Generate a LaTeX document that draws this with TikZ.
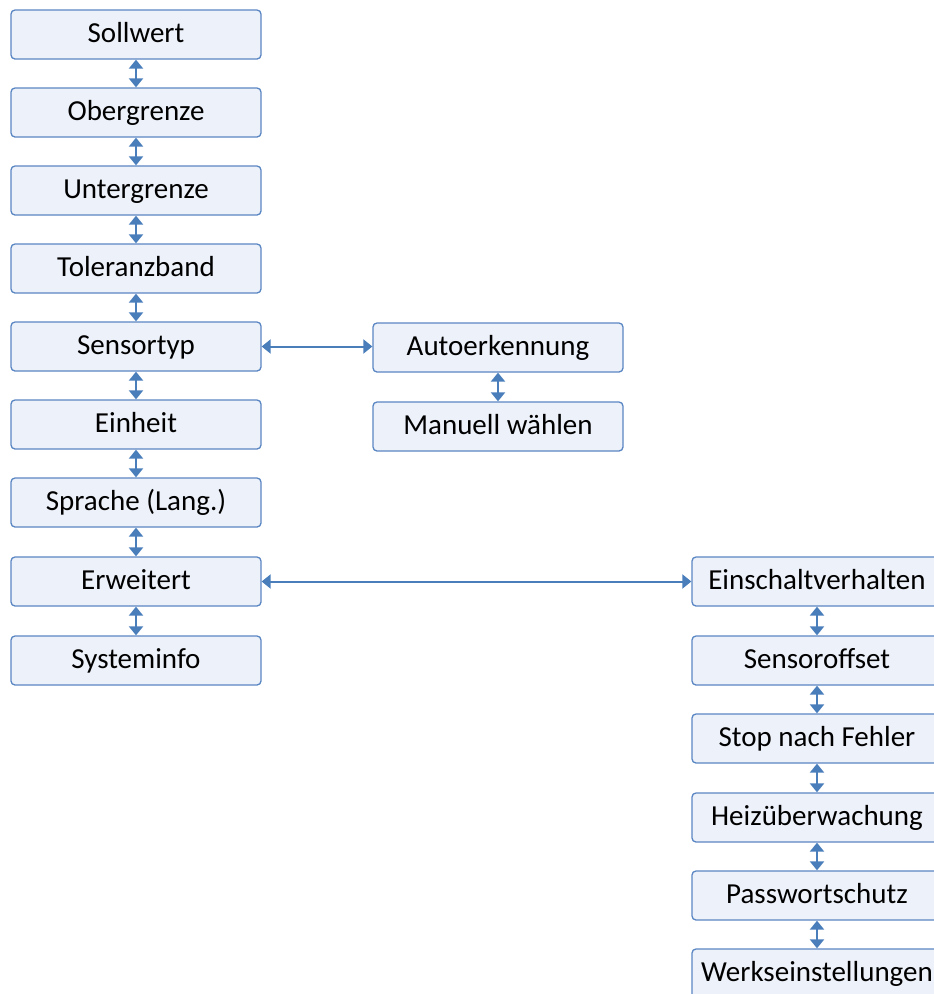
\documentclass[tikz,border=0pt]{standalone}
\usepackage{fontspec}
\setmainfont{Carlito}
\usetikzlibrary{arrows.meta}
\definecolor{bord}{HTML}{5A86C3}
\definecolor{boxfill}{HTML}{EDF1F9}
\definecolor{arr}{HTML}{4A7EBB}
\begin{document}
\begin{tikzpicture}[x=1pt,y=-1pt,
  mbox/.style={rectangle, rounded corners=4pt, draw=bord, fill=boxfill, line width=1.3pt,
    minimum width=250pt, minimum height=49pt, inner sep=0pt, text height=19pt, text depth=4pt,
    font=\fontsize{29}{33}\selectfont},
  conn/.style={draw=arr, line width=2pt, {Triangle[width=14pt,length=9pt,fill=arr]}-{Triangle[width=14pt,length=9pt,fill=arr]}}]
\useasboundingbox (0,0) rectangle (934,994);
\clip (0,0) rectangle (934,994);
% left column
\node[mbox] (soll) at (136,34.5) {Sollwert};
\node[mbox] (ober) at (136,112.5) {Obergrenze};
\node[mbox] (unter) at (136,190.5) {Untergrenze};
\node[mbox] (tol) at (136,268.5) {Toleranzband};
\node[mbox] (sens) at (136,346.5) {Sensortyp};
\node[mbox] (einh) at (136,424.5) {Einheit};
\node[mbox] (spr) at (136,502.5) {Sprache (Lang.)};
\node[mbox] (erw) at (136,581.5) {Erweitert};
\node[mbox] (sys) at (136,660.5) {Systeminfo};
% middle column
\node[mbox] (auto) at (498,347.5) {Autoerkennung};
\node[mbox] (man) at (498,426.5) {Manuell wählen};
% right column
\node[mbox] (ein) at (817,581.5) {Einschaltverhalten};
\node[mbox] (off) at (817,660.5) {Sensoroffset};
\node[mbox] (stop) at (817,738.5) {Stop nach Fehler};
\node[mbox] (heiz) at (817,817.5) {Heizüberwachung};
\node[mbox] (pass) at (817,895.5) {Passwortschutz};
\node[mbox] (werk) at (817,973.5) {Werkseinstellungen};
% connectors
\draw[conn] (soll.south) -- (ober.north);
\draw[conn] (ober.south) -- (unter.north);
\draw[conn] (unter.south) -- (tol.north);
\draw[conn] (tol.south) -- (sens.north);
\draw[conn] (sens.south) -- (einh.north);
\draw[conn] (einh.south) -- (spr.north);
\draw[conn] (spr.south) -- (erw.north);
\draw[conn] (erw.south) -- (sys.north);
\draw[conn] (auto.south) -- (man.north);
\draw[conn] (ein.south) -- (off.north);
\draw[conn] (off.south) -- (stop.north);
\draw[conn] (stop.south) -- (heiz.north);
\draw[conn] (heiz.south) -- (pass.north);
\draw[conn] (pass.south) -- (werk.north);
\draw[conn] (sens.east) -- (sens.east -| auto.west);
\draw[conn] (erw.east) -- (ein.west);
\end{tikzpicture}
\end{document}
